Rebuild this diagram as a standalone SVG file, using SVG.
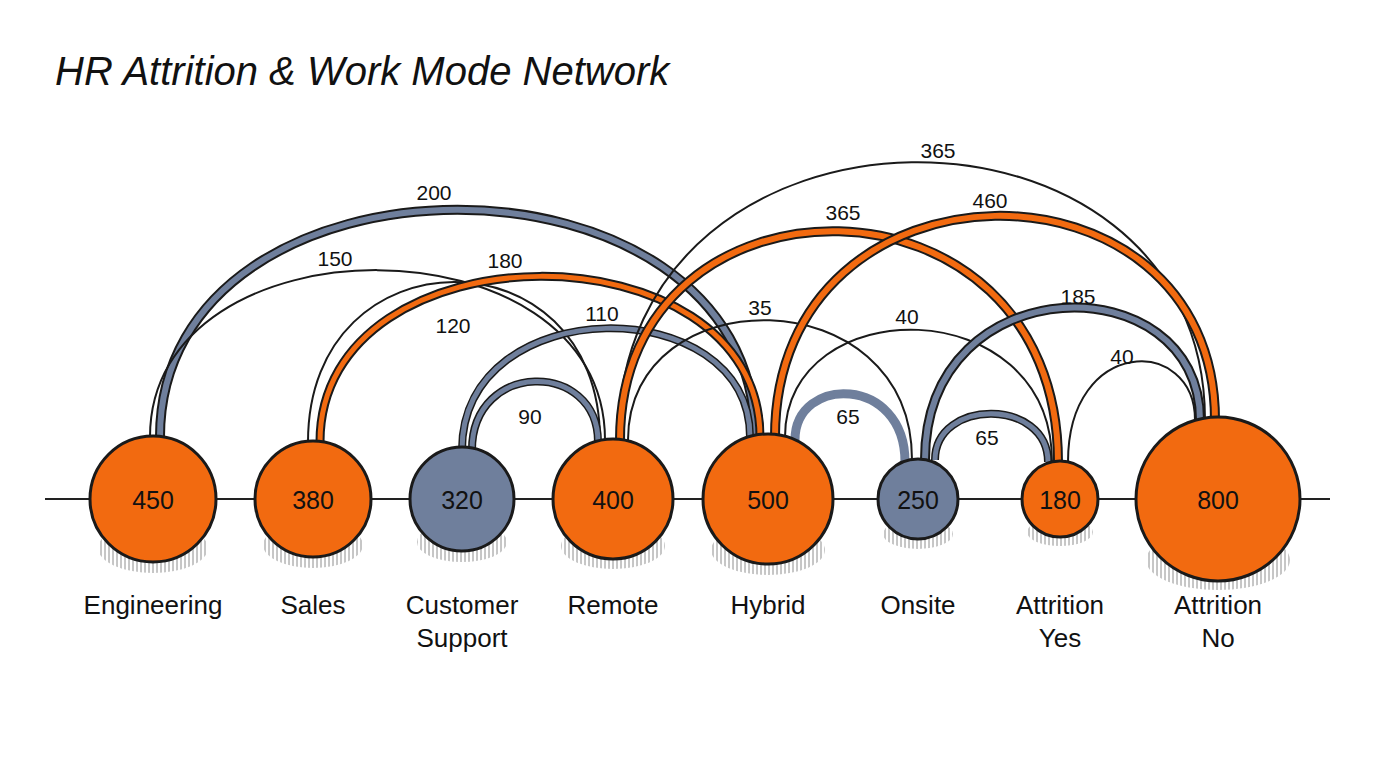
<svg xmlns="http://www.w3.org/2000/svg" width="1376" height="768" viewBox="0 0 1376 768">
<defs>
<pattern id="hatch" width="4" height="10" patternUnits="userSpaceOnUse"><line x1="1" y1="0" x2="1" y2="10" stroke="#333" stroke-width="0.8"/></pattern>
<style>
text{font-family:"Liberation Sans",Arial,sans-serif;fill:#111}
.t{font-size:40px;font-style:italic}
.lab{font-size:26px;text-anchor:middle}
.val{font-size:25px;text-anchor:middle;dominant-baseline:central}
.el{font-size:21px;text-anchor:middle}
.thin{fill:none;stroke:#1a1a1a;stroke-width:2}
.o{fill:none;stroke:#1a1a1a}
.or{fill:none;stroke:#f26a10}
.gr{fill:none;stroke:#6f7f9c}
.no{fill:#f26a10;stroke:#1a1a1a;stroke-width:3}
.ng{fill:#6f7f9c;stroke:#1a1a1a;stroke-width:3}
.sh{fill:url(#hatch);opacity:0.7}
</style>
</defs>
<rect width="1376" height="768" fill="#fff"/>
<text class="t" x="55" y="85">HR Attrition &amp; Work Mode Network</text>
<line x1="45" y1="499" x2="1330" y2="499" stroke="#222" stroke-width="2"/>
<g id="connectors">
<path class="o" stroke-width="10" d="M160 437 C160 134 755 134 755 437"/><path class="gr" stroke-width="6" d="M160 437 C160 134 755 134 755 437"/>
<path class="thin" d="M150 437 C150 214 605 214 605 440"/>
<path class="thin" d="M308 442 C308 229 600 229 600 440"/>
<path class="o" stroke-width="9" d="M320 442 C320 222 760 222 760 437"/><path class="or" stroke-width="5" d="M320 442 C320 222 760 222 760 437"/>
<path class="o" stroke-width="8" d="M462 450 C462 290 750 290 750 437"/><path class="gr" stroke-width="5" d="M462 450 C462 290 750 290 750 437"/>
<path class="o" stroke-width="8" d="M472 450 C472 360 598 360 598 442"/><path class="gr" stroke-width="5" d="M472 450 C472 360 598 360 598 442"/>
<path class="thin" d="M628 440 C628 277 912 277 912 460"/>
<path class="thin" d="M618 440 C618 73 1205 73 1205 420"/>
<path class="o" stroke-width="10" d="M620 440 C620 158 1058 158 1058 462"/><path class="or" stroke-width="6" d="M620 440 C620 158 1058 158 1058 462"/>
<path class="o" stroke-width="10" d="M775 437 C775 145 1215 145 1215 420"/><path class="or" stroke-width="6" d="M775 437 C775 145 1215 145 1215 420"/>
<path class="thin" d="M785 437 C785 290 1052 290 1052 462"/>
<path class="gr" stroke-width="9" d="M795 440 C795 375 905 375 905 462"/>
<path class="o" stroke-width="10" d="M925 460 C925 264 1200 264 1200 420"/><path class="gr" stroke-width="6" d="M925 460 C925 264 1200 264 1200 420"/>
<path class="o" stroke-width="8" d="M935 460 C935 398 1048 398 1048 462"/><path class="gr" stroke-width="5" d="M935 460 C935 398 1048 398 1048 462"/>
<path class="thin" d="M1068 462 C1068 336 1195 336 1195 420"/>
<text class="el" x="434" y="200">200</text>
<text class="el" x="335" y="266">150</text>
<text class="el" x="505" y="268">180</text>
<text class="el" x="453" y="333">120</text>
<text class="el" x="602" y="321">110</text>
<text class="el" x="530" y="424">90</text>
<text class="el" x="760" y="315">35</text>
<text class="el" x="938" y="158">365</text>
<text class="el" x="843" y="220">365</text>
<text class="el" x="990" y="208">460</text>
<text class="el" x="907" y="324">40</text>
<text class="el" x="848" y="424">65</text>
<text class="el" x="1078" y="304">185</text>
<text class="el" x="987" y="445">65</text>
<text class="el" x="1122" y="364">40</text>
</g>
<g id="n-eng"><ellipse class="sh" cx="153" cy="548" rx="55" ry="25"/><circle class="no" cx="153" cy="499" r="63"/><text class="val" x="153" y="500">450</text><text class="lab" x="153" y="614">Engineering</text></g>
<g id="n-sales"><ellipse class="sh" cx="313" cy="545" rx="50" ry="23"/><circle class="no" cx="313" cy="499" r="58"/><text class="val" x="313" y="500">380</text><text class="lab" x="313" y="614">Sales</text></g>
<g id="n-cs"><ellipse class="sh" cx="462" cy="542" rx="45" ry="20"/><circle class="ng" cx="462" cy="499" r="52"/><text class="val" x="462" y="500">320</text><text class="lab" x="462" y="614">Customer</text><text class="lab" x="462" y="647">Support</text></g>
<g id="n-remote"><ellipse class="sh" cx="613" cy="546" rx="52" ry="23"/><circle class="no" cx="613" cy="499" r="60"/><text class="val" x="613" y="500">400</text><text class="lab" x="613" y="614">Remote</text></g>
<g id="n-hybrid"><ellipse class="sh" cx="768" cy="550" rx="57" ry="25"/><circle class="no" cx="768" cy="499" r="65"/><text class="val" x="768" y="500">500</text><text class="lab" x="768" y="614">Hybrid</text></g>
<g id="n-onsite"><ellipse class="sh" cx="918" cy="534" rx="35" ry="15"/><circle class="ng" cx="918" cy="499" r="40"/><text class="val" x="918" y="500">250</text><text class="lab" x="918" y="614">Onsite</text></g>
<g id="n-yes"><ellipse class="sh" cx="1060" cy="532" rx="33" ry="14"/><circle class="no" cx="1060" cy="499" r="38"/><text class="val" x="1060" y="500">180</text><text class="lab" x="1060" y="614">Attrition</text><text class="lab" x="1060" y="647">Yes</text></g>
<g id="n-no"><ellipse class="sh" cx="1218" cy="560" rx="72" ry="30"/><circle class="no" cx="1218" cy="499" r="82"/><text class="val" x="1218" y="500">800</text><text class="lab" x="1218" y="614">Attrition</text><text class="lab" x="1218" y="647">No</text></g>
</svg>
